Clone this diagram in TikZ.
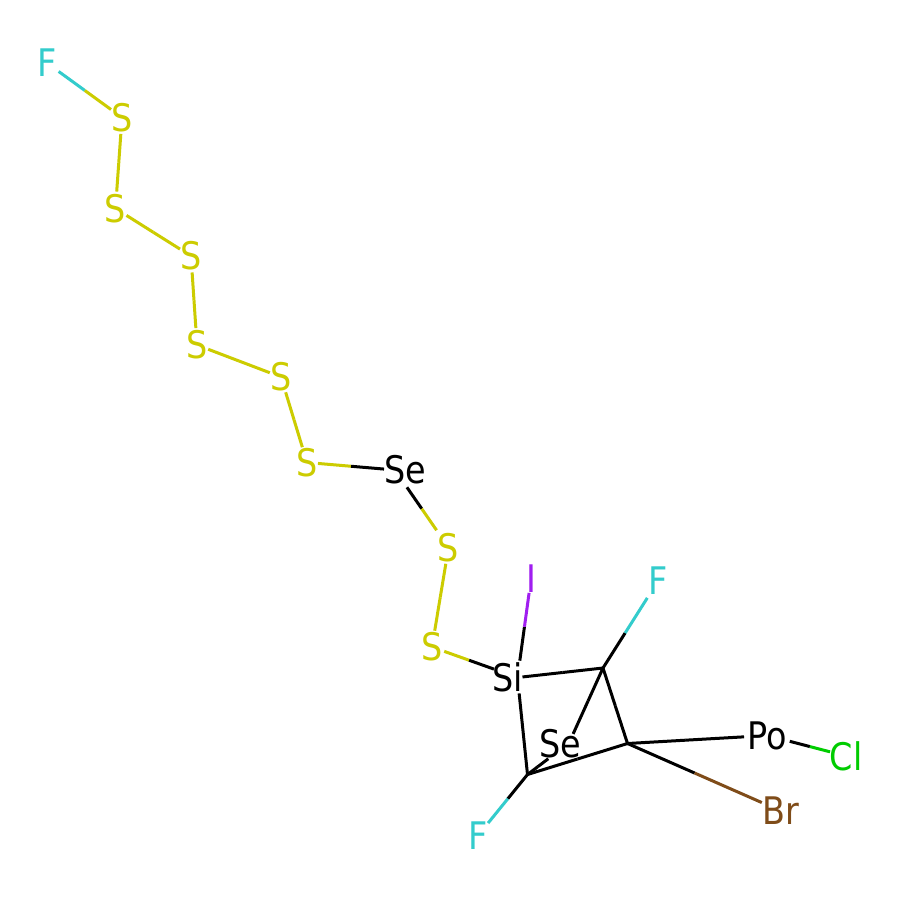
\documentclass[tikz,border=0pt]{standalone}
\usepackage{fontspec}
\setmainfont[FakeStretch=0.88]{DejaVu Sans}
\usetikzlibrary{calc}
\definecolor{cS}{HTML}{CCCC00}
\definecolor{cF}{HTML}{33CCCC}
\definecolor{cI}{HTML}{A01EF0}
\definecolor{cCl}{HTML}{00CC00}
\definecolor{cBr}{HTML}{7F4C19}
\tikzset{
  atomlabel/.style={inner sep=0pt,font=\fontsize{38}{38}\selectfont},
  bondline/.style={line width=3pt,line cap=butt}
}
% a, b, colour a, colour b, gap at a, gap at b (gaps measured from the atom centres)
\newcommand{\bondpair}[6]{%
  \coordinate (pa) at ($(#1.center)!#5pt!(#2.center)$);
  \coordinate (pb) at ($(#2.center)!#6pt!(#1.center)$);
  \coordinate (pm) at ($(pa)!.5!(pb)$);
  \draw[bondline,#3] (pa) -- (pm);
  \draw[bondline,#4] (pb) -- (pm);
}
\begin{document}
\begin{tikzpicture}[x=1pt,y=-1pt]
\useasboundingbox (0,0) rectangle (900,900);
\fill[white] (0,0) rectangle (900,900);
\node[atomlabel,text=cF] (f1) at (47,63) {F};
\node[atomlabel,text=cS] (s1) at (122,117.5) {S};
\node[atomlabel,text=cS] (s2) at (115.5,208.5) {S};
\node[atomlabel,text=cS] (s3) at (191,256) {S};
\node[atomlabel,text=cS] (s4) at (197,345) {S};
\node[atomlabel,text=cS] (s5) at (281,377) {S};
\node[atomlabel,text=cS] (s6) at (307,462.5) {S};
\node[atomlabel,text=black] (se1) at (405.5,470) {Se};
\node[atomlabel,text=cS] (s7) at (448.5,547.5) {S};
\node[atomlabel,text=cS] (s8) at (432,647) {S};
\node[atomlabel,text=black] (si) at (507.5,677.5) {Si};
\node[atomlabel,text=cI] (i) at (531,579) {I};
\node[atomlabel,text=cF] (f2) at (658,581) {F};
\node[atomlabel,text=black] (po) at (767.5,735.5) {Po};
\node[atomlabel,text=cCl] (cl) at (846,756) {Cl};
\node[atomlabel,text=cBr] (br) at (781,811) {Br};
\node[atomlabel,text=cF] (f3) at (478,835.5) {F};
\node[atomlabel,text=black] (se2) at (560.5,743.5) {Se};
\coordinate (c1) at (603,668);
\coordinate (c2) at (627.5,743.5);
\coordinate (c3) at (527.5,774.5);
\coordinate (siatom) at (517.5,677.5);
\coordinate (seatom) at (569,743);
\coordinate (seonea) at (395,470);
\bondpair{f1}{s1}{cF}{cS}{14.4}{13.6}
\bondpair{s1}{s2}{cS}{cS}{16.5}{17}
\bondpair{s2}{s3}{cS}{cS}{13}{13}
\bondpair{s3}{s4}{cS}{cS}{16.5}{17}
\bondpair{s4}{s5}{cS}{cS}{12}{12}
\bondpair{s5}{s6}{cS}{cS}{16}{16}
\bondpair{s6}{seonea}{cS}{black}{11}{11}
\bondpair{seonea}{s7}{black}{cS}{21}{21}
\bondpair{s7}{s8}{cS}{cS}{16.5}{16.5}
\bondpair{s8}{siatom}{cS}{black}{13}{25}
\bondpair{siatom}{i}{black}{cI}{17}{14}
\bondpair{siatom}{c1}{black}{black}{5}{0}
\bondpair{siatom}{c3}{black}{black}{16}{0}
\bondpair{c1}{f2}{black}{cF}{0}{20}
\bondpair{c1}{c2}{black}{black}{0}{0}
\bondpair{c1}{seatom}{black}{black}{0}{10}
\bondpair{c2}{c3}{black}{black}{0}{0}
\bondpair{c2}{po}{black}{black}{0}{23.5}
\bondpair{c2}{br}{black}{cBr}{0}{21}
\bondpair{po}{cl}{black}{cCl}{23}{16.5}
\bondpair{c3}{f3}{black}{cF}{0}{16}
\bondpair{c3}{seatom}{black}{black}{0}{26}
\end{tikzpicture}
\end{document}
